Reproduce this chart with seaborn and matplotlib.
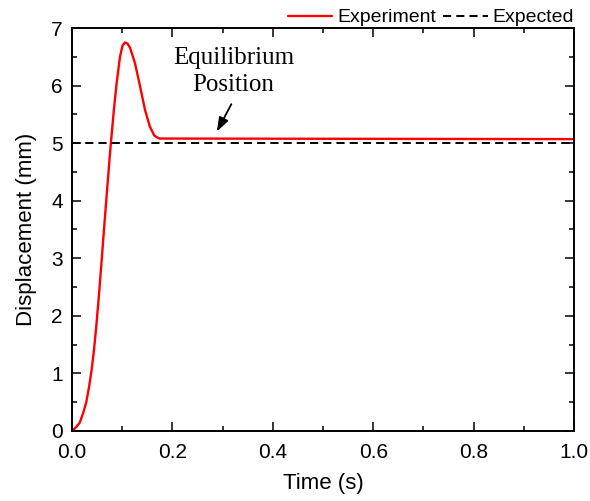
import matplotlib
matplotlib.use("Agg")
import matplotlib.pyplot as plt
from matplotlib.ticker import MultipleLocator
import seaborn as sns
import pandas as pd

# Data
exp_time = [0, 0.0067, 0.0153, 0.0219, 0.0285, 0.0339, 0.039, 0.044, 0.0485,
            0.0536, 0.059, 0.0642, 0.070, 0.0755, 0.079, 0.0837, 0.089, 0.0956,
            0.1005, 0.1052, 0.1105, 0.1155, 0.1255, 0.1355, 0.1454, 0.155,
            0.164, 0.174, 1.0]
exp_disp = [0, 0.05, 0.14, 0.3, 0.5, 0.76, 1.05, 1.42, 1.83,
            2.35, 2.95, 3.55, 4.2, 4.8, 5.15, 5.6, 6.05, 6.5,
            6.69, 6.75, 6.73, 6.66, 6.39, 5.99, 5.58, 5.29,
            5.13, 5.08, 5.07]
expected_time = [0.0, 1.0]
expected_disp = [5.0, 5.0]

sns.set_theme(style="ticks")
plt.rcParams['font.family'] = ['Liberation Sans', 'DejaVu Sans']
plt.rcParams.update({"text.color": "black", "axes.labelcolor": "black",
                     "xtick.color": "black", "ytick.color": "black",
                     "axes.edgecolor": "black"})

fig = plt.figure(figsize=(5.9, 5.01), dpi=100)
ax = fig.add_axes([0.122, 0.140, 0.851, 0.804])

df_exp = pd.DataFrame({"t": exp_time, "d": exp_disp})
df_expd = pd.DataFrame({"t": expected_time, "d": expected_disp})

sns.lineplot(data=df_exp, x="t", y="d", ax=ax, color="#ff0000", lw=1.7,
             label="Experiment", sort=False, estimator=None)
sns.lineplot(data=df_expd, x="t", y="d", ax=ax, color="black", lw=1.4,
             label="Expected", estimator=None)
ax.lines[1].set_dashes((4.2, 2.6))
for ln in ax.lines:
    ln.set_solid_joinstyle("round")

ax.set_xlim(0, 1.0)
ax.set_ylim(0, 7)
ax.xaxis.set_major_locator(MultipleLocator(0.2))
ax.xaxis.set_minor_locator(MultipleLocator(0.1))
ax.yaxis.set_major_locator(MultipleLocator(1))
ax.yaxis.set_minor_locator(MultipleLocator(0.5))
ax.set_xticklabels([f"{v:.1f}" for v in ax.get_xticks()])
ax.tick_params(which="both", direction="in", top=True, right=True,
               labeltop=False, labelright=False, width=1.1, color="black")
ax.tick_params(which="major", length=6.2, labelsize=15)
ax.tick_params(axis="x", which="major", pad=8.5)
ax.tick_params(axis="y", which="major", pad=6.5)
ax.tick_params(which="minor", length=3.8)
for s in ax.spines.values():
    s.set_visible(True)
    s.set_linewidth(1.4)
    s.set_color("black")

ax.set_xlabel("Time (s)", fontsize=16, labelpad=8)
ax.set_ylabel("Displacement (mm)", fontsize=16, labelpad=10)

leg = ax.legend(loc="lower right", bbox_to_anchor=(1.0, 1.004), ncol=2,
                frameon=False, fontsize=14, handlelength=2.3,
                handletextpad=0.25, columnspacing=0.35,
                borderaxespad=0, borderpad=0)

ax.annotate("", xy=(0.286, 5.16), xytext=(0.320, 5.72),
            arrowprops=dict(arrowstyle="-|>,head_length=0.7,head_width=0.25",
                            color="black", lw=1.3, mutation_scale=12))
ax.text(0.322, 6.24, "Equilibrium\nPosition", ha="center", va="center",
        fontsize=18, family=["Liberation Serif", "DejaVu Serif"],
        linespacing=1.3)

fig.savefig("out.png", dpi=100, facecolor="white")
